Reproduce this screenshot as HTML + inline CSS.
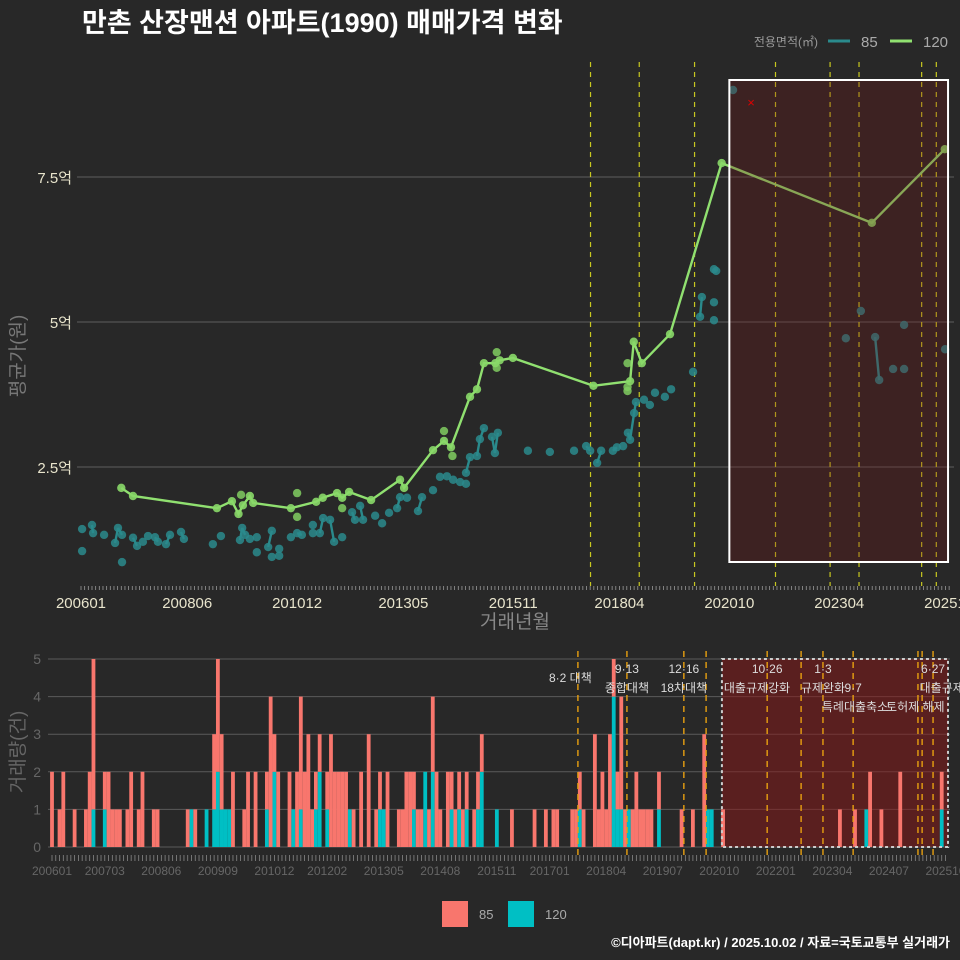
<!DOCTYPE html>
<html><head><meta charset="utf-8">
<style>
html,body{margin:0;padding:0;background:#282828;}
svg{display:block;font-family:"Liberation Sans","Noto Sans CJK KR",sans-serif;}
</style></head>
<body>
<svg id="chart" width="960" height="960" viewBox="0 0 960 960">
<rect x="0" y="0" width="960" height="960" fill="#282828"/>
<text x="82" y="32" fill="#ffffff" font-size="27" font-weight="bold">만촌 산장맨션 아파트(1990) 매매가격 변화</text>
<g>
<text x="818" y="46" fill="#999" font-size="12" text-anchor="end">전용면적(㎡)</text>
<line x1="828" y1="41" x2="850" y2="41" stroke="#2a8a8c" stroke-width="3"/>
<text x="861" y="47" fill="#aaa" font-size="15">85</text>
<line x1="890" y1="41" x2="912" y2="41" stroke="#90e070" stroke-width="3"/>
<text x="923" y="47" fill="#aaa" font-size="15">120</text>
</g>
<g id="topG"></g>
<g id="botG"></g>
<g>
<rect x="442" y="901" width="26" height="26" fill="#F8766D"/>
<text x="479" y="919" fill="#aaa" font-size="13">85</text>
<rect x="508" y="901" width="26" height="26" fill="#00BFC4"/>
<text x="545" y="919" fill="#aaa" font-size="13">120</text>
</g>
<text x="950" y="947" fill="#ffffff" font-size="13" font-weight="bold" text-anchor="end">©디아파트(dapt.kr) / 2025.10.02 / 자료=국토교통부 실거래가</text>
</svg>
<script>
// months since 2006-01 and prices (억)
const m120 = [11,14.2,37.1,41.2,43,44.2,46.1,47,57.3,64.2,66,69.9,71.3,73.2,79.2,87.1,88.2,96.1,99.1,101,106.2,108.1,110,113.1,114.3,117.9,139.9,149.9,150.9,153.1,160.8,174.9,215.9,235.8];
const v120 = [2.14,2.00,1.79,1.91,1.69,1.84,2.00,1.88,1.79,1.90,1.97,2.05,1.97,2.07,1.93,2.28,2.14,2.79,2.95,2.84,3.71,3.84,4.29,4.29,4.34,4.38,3.90,3.98,4.66,4.29,4.79,7.74,6.71,7.98];
const m120x = [59,59,71.3,43.7,99.1,101.4,113.5,113.5,149.2,149.2,149.2];
const v120x = [2.05,1.64,1.79,2.02,3.12,2.69,4.48,4.21,4.29,3.88,3.81];
const m85 = [0.3,0.3,3,3.3,6.3,9.3,10.1,11.2,11.2,14.2,15.3,16.9,18.3,20.2,21,23.2,24.3,27.3,28.1,36,38.2,43.4,44,44.8,46.1,48,48,51.1,52.1,52.1,54.1,54.1,57.3,59,60.3,63.3,63.3,65.2,66.1,68,69.1,71.3,74,74.8,76.2,77,80.3,82.2,84.1,86.3,87.1,89,92,93.1,96.1,98,99.9,101.6,103.5,105.1,105.1,106.2,108.1,108.9,110,112.2,113,113.8,122,128,134.6,137.9,139,140.9,142,145.2,146.3,148,149.3,149.9,151,151.5,153.7,155.3,156.7,159.4,161.1,167.1,169,169.5,172.8,173.4,172.8,172.8,178,208.8,212.9,216.8,217.9,221.7,224.7,224.7,235.9];
const v85 = [1.43,1.05,1.50,1.36,1.33,1.19,1.45,1.33,0.86,1.28,1.14,1.21,1.31,1.29,1.21,1.17,1.33,1.38,1.26,1.17,1.31,1.24,1.45,1.33,1.26,1.29,1.03,1.12,1.40,0.95,1.09,0.97,1.29,1.36,1.33,1.50,1.36,1.36,1.62,1.59,1.21,1.29,1.72,1.59,1.83,1.59,1.66,1.53,1.71,1.79,1.98,1.97,1.74,1.98,2.10,2.33,2.34,2.28,2.24,2.21,2.40,2.67,2.69,2.98,3.17,3.02,2.74,3.09,2.78,2.76,2.78,2.86,2.78,2.57,2.78,2.78,2.84,2.86,3.09,2.97,3.43,3.62,3.66,3.57,3.78,3.71,3.84,4.14,5.09,5.43,5.91,5.88,5.34,5.03,9.00,4.72,5.19,4.74,4.00,4.19,4.95,4.19,4.53];
const yTicks = [2.5,5,7.5];
const yTickLabels = ["2.5억","5억","7.5억"];
const xTickMonths = [0,29,59,88,118,147,177,207,237];
const xTickLabels = ["200601","200806","201012","201305","201511","201804","202010","202304","202510"];
const policyTop = [139.1,152.4,167.5,189.6,204.5,212.4,229.5,233.5];
// volume chart
const volMonths = [0,2,3,6,9,10,11,14,15,16,17,18,20,21,23,24,27,28,36,37,38,41,43,44,45,46,47,48,51,52,54,57,58,59,60,63,64,65,66,67,68,69,70,71,73,74,75,76,77,78,79,80,82,84,86,87,88,89,92,93,94,95,96,97,98,99,100,101,102,103,105,106,107,108,109,110,112,113,114,118,122,128,131,133,134,138,139,140,141,144,145,146,147,148,149,150,151,152,153,154,155,156,157,158,159,161,167,170,173,174,175,178,209,213,216,217,220,225,236];
const vol85 = [2,1,2,1,1,2,4,1,2,1,1,1,1,2,1,2,1,1,1,0,1,0,2,3,2,0,0,2,1,2,2,1,4,1,2,2,0,2,3,2,3,1,1,1,1,3,2,2,2,2,0,1,2,3,1,1,0,2,1,1,2,2,1,1,1,0,1,2,2,1,2,1,1,1,1,1,1,1,1,0,1,1,1,1,1,1,1,1,1,3,1,2,1,3,1,1,3,1,0,1,2,1,1,1,1,1,1,1,3,0,0,1,1,1,0,2,1,2,1];
const vol120 = [0,0,0,0,0,0,1,1,0,0,0,0,0,0,0,0,0,0,0,1,0,1,1,2,1,1,1,0,0,0,0,1,0,2,0,0,1,0,1,0,0,0,1,2,1,0,0,0,0,0,1,0,0,0,0,1,1,0,0,0,0,0,1,0,0,2,0,2,0,0,0,1,0,1,0,1,0,1,2,1,0,0,0,0,0,0,0,1,0,0,0,0,0,0,4,1,1,0,1,0,0,0,0,0,0,1,0,0,0,1,1,0,0,0,1,0,0,0,1];
const volTicks = [0,1,2,3,4,5];
const volXMonths = [0,14,29,44,59,73,88,103,118,132,147,162,177,192,207,222,237];
const volXLabels = ["200601","200703","200806","200909","201012","201202","201305","201408","201511","201701","201804","201907","202010","202201","202304","202407","202510"];
const policyBottom = [139.5,152.5,167.6,173.5,189.7,198.7,204.5,212.5,229.7,230.8,233.7];
const annoMonths = [137.5,152.5,152.5,167.6,167.6,189.7,187,204.5,204.5,212.5,213,229,233.7,236];
const annoRowY = [682,673,692,673,692,673,692,673,692,692,711,711,673,692];
const annoText = ["8·2 대책","9·13","종합대책","12·16","18차대책","10·26","대출규제강화","1·3","규제완화","9·7","특례대출축소","토허제 해제","6·27","대출규제"];

const NS="http://www.w3.org/2000/svg";
function mk(parent,tag,attrs){const e=document.createElementNS(NS,tag);for(const k in attrs)e.setAttribute(k,attrs[k]);parent.appendChild(e);return e;}
const topG=document.getElementById('topG'), botG=document.getElementById('botG');
const X=m=>81+m*3.663, Y=v=>467-(v-2.5)*58;
const XB=m=>52+m*3.77, YB=c=>847-c*37.6;

yTicks.forEach((t,i)=>{
  const g=mk(topG,'line',{x1:77,x2:954,y1:Y(t),y2:Y(t),stroke:'#5e5e5e','stroke-width':1});
  
  
  const tk=mk(topG,'text',{x:72,y:Y(t)+6,fill:'#e8e4cc','font-size':15,'text-anchor':'end'});
  tk.textContent=yTickLabels[i];
  
  
});
for(let m=0;m<=237;m++){
  const t=mk(topG,'line',{x1:X(m),x2:X(m),y1:586,y2:590,stroke:'#999','stroke-width':0.8});
  
  
}
xTickMonths.forEach((m,i)=>{
  const tk=mk(topG,'text',{x:X(m),y:608,fill:'#e8e4cc','font-size':15,'text-anchor':'middle'});
  tk.textContent=xTickLabels[i];
  
  
});
const xt=mk(topG,'text',{x:515,y:628,fill:'#888','font-size':19,'text-anchor':'middle'});
xt.textContent='거래년월';


const yt=mk(topG,'text',{x:0,y:0,fill:'#777','font-size':19,'text-anchor':'middle',transform:'translate(24,356) rotate(-90)'});
yt.textContent='평균가(원)';



policyTop.forEach(m=>{
  const l=mk(topG,'line',{x1:X(m),x2:X(m),y1:62,y2:586,stroke:'#c8c820','stroke-width':1.2,'stroke-dasharray':'5,5'});
  
  
});

for(let i=1;i<m85.length;i++){
  if(m85[i]-m85[i-1]<=1.3 && m85[i]-m85[i-1]>0.2){
    const l=mk(topG,'line',{x1:X(m85[i-1]),y1:Y(v85[i-1]),x2:X(m85[i]),y2:Y(v85[i]),stroke:'#2a8a8c','stroke-width':2.4});
    
    
  }
}
m85.forEach((m,i)=>{
  const c=mk(topG,'circle',{cx:X(m),cy:Y(v85[i]),r:4.2,fill:'#2a8a8c','fill-opacity':0.85});
  
  
});
m120x.forEach((m,i)=>{
  const c=mk(topG,'circle',{cx:X(m),cy:Y(v120x[i]),r:4.2,fill:'#80cc60','fill-opacity':0.85});
  
  
});
const pl=mk(topG,'polyline',{points:m120.map((m,i)=>X(m)+','+Y(v120[i])).join(' '),fill:'none',stroke:'#90e070','stroke-width':2.4});


m120.forEach((m,i)=>{
  const c=mk(topG,'circle',{cx:X(m),cy:Y(v120[i]),r:4.2,fill:'#88d868','fill-opacity':0.9});
  
  
});
const hr=mk(topG,'rect',{x:X(177),y:80,width:X(236.7)-X(177),height:482,fill:'rgba(120,20,20,0.28)',stroke:'#ffffff','stroke-width':2});


const xm=mk(topG,'text',{x:751,y:107,fill:'#e00000','font-size':13,'text-anchor':'middle'});
xm.textContent='×';



volTicks.forEach(t=>{
  const g=mk(botG,'line',{x1:48,x2:950,y1:YB(t),y2:YB(t),stroke:'#5a5a5a','stroke-width':1});
  
  
  const tk=mk(botG,'text',{x:41,y:YB(t)+5,fill:'#666','font-size':14,'text-anchor':'end'});
  tk.textContent=t;
  
  
});
const vr=mk(botG,'rect',{x:XB(177.7),y:YB(5),width:948-XB(177.7),height:YB(0)-YB(5),fill:'rgba(140,22,22,0.5)'});


volMonths.forEach((m,i)=>{
  const bw=3.8, x=XB(m)-bw/2;
  if(vol120[i]>0){
    const b=mk(botG,'rect',{x:x,y:YB(vol120[i]),width:bw,height:YB(0)-YB(vol120[i]),fill:'#00BFC4'});
    
    
  }
  if(vol85[i]>0){
    const b=mk(botG,'rect',{x:x,y:YB(vol120[i]+vol85[i]),width:bw,height:YB(vol120[i])-YB(vol120[i]+vol85[i]),fill:'#F8766D'});
    
    
  }
});
const vb=mk(botG,'rect',{x:XB(177.7),y:YB(5),width:948-XB(177.7),height:YB(0)-YB(5),fill:'none',stroke:'#cccccc','stroke-width':2,'stroke-dasharray':'3,3'});


policyBottom.forEach(m=>{
  const l=mk(botG,'line',{x1:XB(m),x2:XB(m),y1:651,y2:857,stroke:'#e8a010','stroke-width':1.4,'stroke-dasharray':'6,5'});
  
  
});
annoMonths.forEach((m,i)=>{
  const t=mk(botG,'text',{x:XB(m),y:annoRowY[i],fill:'#dddddd','font-size':12,'text-anchor':'middle'});
  t.textContent=annoText[i];
  
  
});
for(let m=0;m<=237;m++){
  const t=mk(botG,'line',{x1:XB(m),x2:XB(m),y1:855,y2:861,stroke:'#888','stroke-width':0.8});
  
  
}
volXMonths.forEach((m,i)=>{
  const tk=mk(botG,'text',{x:XB(m),y:875,fill:'#666','font-size':12,'text-anchor':'middle'});
  tk.textContent=volXLabels[i];
  
  
});
const vt=mk(botG,'text',{x:0,y:0,fill:'#666','font-size':19,'text-anchor':'middle',transform:'translate(24,752) rotate(-90)'});
vt.textContent='거래량(건)';


</script>
</body></html>
